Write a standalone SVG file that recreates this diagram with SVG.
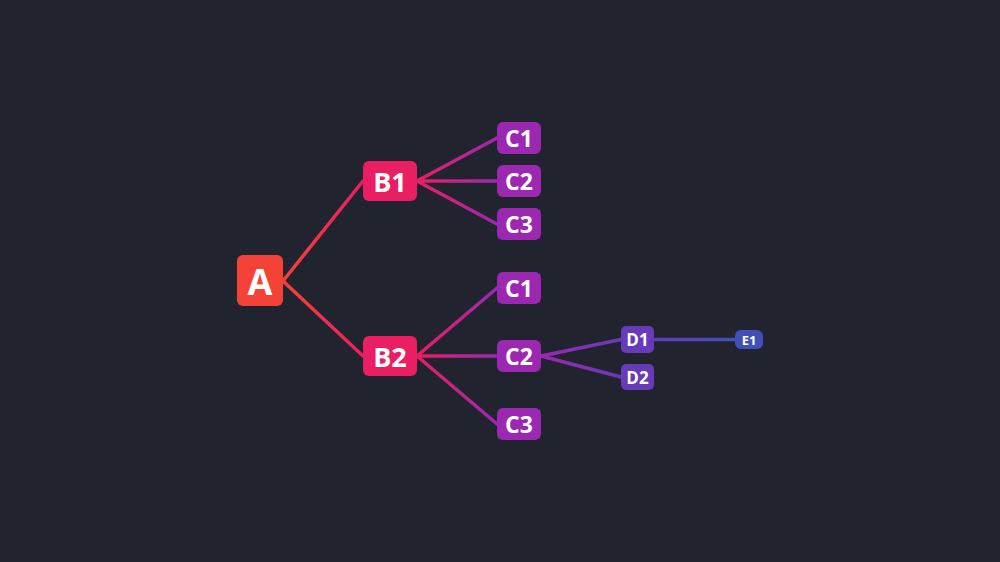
<svg xmlns="http://www.w3.org/2000/svg" width="1000" height="562" viewBox="0 0 1000 562">
<defs>
<linearGradient id="g1" gradientUnits="userSpaceOnUse" x1="283" y1="0" x2="363" y2="0"><stop offset="0" stop-color="#f44336"/><stop offset="1" stop-color="#e91e63"/></linearGradient>
<linearGradient id="g2" gradientUnits="userSpaceOnUse" x1="417" y1="0" x2="497" y2="0"><stop offset="0" stop-color="#e91e63"/><stop offset="1" stop-color="#9c27b0"/></linearGradient>
<linearGradient id="g3" gradientUnits="userSpaceOnUse" x1="541" y1="0" x2="621" y2="0"><stop offset="0" stop-color="#9c27b0"/><stop offset="1" stop-color="#673ab7"/></linearGradient>
<linearGradient id="g4" gradientUnits="userSpaceOnUse" x1="654" y1="0" x2="735" y2="0"><stop offset="0" stop-color="#673ab7"/><stop offset="1" stop-color="#3f51b5"/></linearGradient>
</defs>
<style>
text{font-family:"Open Sans","Noto Sans","DejaVu Sans",sans-serif;font-weight:700;fill:#ffffff;text-anchor:middle;dominant-baseline:central}
.e{fill:none;stroke-width:3.5;stroke-linecap:round}
.e1{stroke:url(#g1)}.e2{stroke:url(#g2)}.e3{stroke:url(#g3)}.e4{stroke:url(#g4)}
.a{fill:#f44336}.b{fill:#e91e63}.c{fill:#9c27b0}.d{fill:#673ab7}.ee{fill:#3f51b5}
</style>
<rect width="1000" height="562" fill="#21232f"/>
<g id="connectors">
<line class="e e1" x1="283" y1="281" x2="363" y2="181"/>
<line class="e e1" x1="283" y1="281" x2="363" y2="356"/>
<line class="e e2" x1="417" y1="181" x2="497" y2="138"/>
<line class="e e2" x1="417" y1="181" x2="497" y2="181"/>
<line class="e e2" x1="417" y1="181" x2="497" y2="224"/>
<line class="e e2" x1="417" y1="356" x2="497" y2="288"/>
<line class="e e2" x1="417" y1="356" x2="497" y2="356"/>
<line class="e e2" x1="417" y1="356" x2="497" y2="424"/>
<line class="e e3" x1="541" y1="356" x2="621" y2="339.5"/>
<line class="e e3" x1="541" y1="356" x2="621" y2="377"/>
<line class="e e4" x1="654" y1="339.5" x2="735" y2="339.5"/>
</g>
<g id="node-A"><rect class="a" x="237" y="255" width="46" height="51" rx="6"/><text x="260" y="281" font-size="36">A</text></g>
<g id="node-B1"><rect class="b" x="363" y="161" width="54" height="40" rx="6"/><text x="390" y="181" font-size="27">B1</text></g>
<g id="node-B2"><rect class="b" x="363" y="336" width="54" height="40" rx="6"/><text x="390" y="356" font-size="27">B2</text></g>
<g id="node-B1-C1"><rect class="c" x="497" y="122" width="44" height="32" rx="6"/><text x="519" y="138" font-size="23">C1</text></g>
<g id="node-B1-C2"><rect class="c" x="497" y="165" width="44" height="32" rx="6"/><text x="519" y="181" font-size="23">C2</text></g>
<g id="node-B1-C3"><rect class="c" x="497" y="208" width="44" height="32" rx="6"/><text x="519" y="224" font-size="23">C3</text></g>
<g id="node-B2-C1"><rect class="c" x="497" y="272" width="44" height="32" rx="6"/><text x="519" y="288" font-size="23">C1</text></g>
<g id="node-B2-C2"><rect class="c" x="497" y="340" width="44" height="32" rx="6"/><text x="519" y="356" font-size="23">C2</text></g>
<g id="node-B2-C3"><rect class="c" x="497" y="408" width="44" height="32" rx="6"/><text x="519" y="424" font-size="23">C3</text></g>
<g id="node-D1"><rect class="d" x="621" y="326" width="33" height="27" rx="5"/><text x="637.5" y="339.5" font-size="17">D1</text></g>
<g id="node-D2"><rect class="d" x="621" y="364" width="33" height="26" rx="5"/><text x="637.5" y="377" font-size="17">D2</text></g>
<g id="node-E1"><rect class="ee" x="735" y="330" width="28" height="19" rx="6"/><text x="749" y="339.5" font-size="13">E1</text></g>
</svg>
